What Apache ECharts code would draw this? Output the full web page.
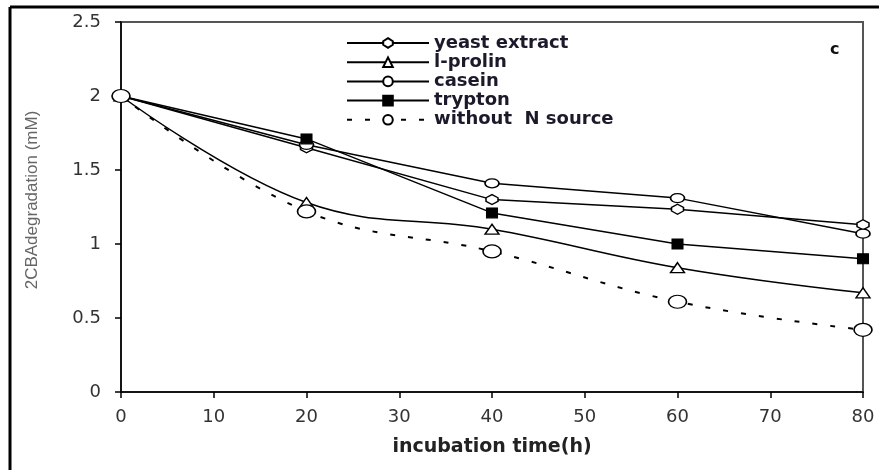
<!DOCTYPE html>
<html>
<head>
<meta charset="utf-8">
<script src="https://cdn.jsdelivr.net/npm/echarts@6/dist/echarts.min.js"></script>
<style>
html,body{margin:0;padding:0;background:#fff;}
#chart{width:879px;height:470px;}
</style>
</head>
<body>
<div id="chart"></div>
<script>
// Data
const hours = [0, 20, 40, 60, 80];
const yeastExtract = [2.0, 1.65, 1.30, 1.235, 1.13];
const lProlin = [2.0, 1.28, 1.10, 0.84, 0.67];
const casein = [2.0, 1.67, 1.41, 1.31, 1.07];
const trypton = [2.0, 1.71, 1.21, 1.0, 0.90];
const withoutN = [2.0, 1.22, 0.95, 0.61, 0.42];
const seriesNames = ['yeast extract', 'l-prolin', 'casein', 'trypton', 'without  N source'];
const xTicks = [0, 10, 20, 30, 40, 50, 60, 70, 80];
const yTicks = [0, 0.5, 1, 1.5, 2, 2.5];

function pairs(ys) { return hours.map((h, i) => [h, ys[i]]); }

const hexPath = 'path://M5,0 L10,3.2 L10,6.8 L5,10 L0,6.8 L0,3.2 Z';
const openStyle = { color: '#fff', borderColor: '#000', borderWidth: 1.4 };
const solidLine = { color: '#000', width: 1.5, type: 'solid' };

const chart = echarts.init(document.getElementById('chart'), null, { renderer: 'canvas' });
chart.setOption({
  animation: false,
  backgroundColor: '#fff',
  graphic: [
    { type: 'line', shape: { x1: 10, y1: 7, x2: 879, y2: 7 }, style: { stroke: '#000', lineWidth: 3 } },
    { type: 'line', shape: { x1: 10, y1: 7, x2: 10, y2: 470 }, style: { stroke: '#000', lineWidth: 3 } },
    { type: 'text', left: 830, top: 42, style: { text: 'c', font: 'bold 16px "DejaVu Sans"', fill: '#111' } }
  ],
  grid: { left: 121, right: 16, top: 22, bottom: 78, show: true, borderColor: '#555', borderWidth: 2, backgroundColor: 'transparent' },
  legend: {
    orient: 'vertical',
    left: 341,
    top: 29,
    itemWidth: 82,
    itemHeight: 12,
    itemGap: 1.2,
    data: seriesNames,
    textStyle: { fontFamily: 'DejaVu Sans', fontSize: 18, fontWeight: 'bold', color: '#1a1a2a', lineHeight: 17 }
  },
  xAxis: {
    type: 'value', min: 0, max: 80, interval: 10,
    name: 'incubation time(h)', nameLocation: 'middle', nameGap: 46,
    nameTextStyle: { fontFamily: 'DejaVu Sans', fontWeight: 'bold', fontSize: 19, color: '#222' },
    axisLine: { show: true, onZero: false, lineStyle: { color: '#000', width: 1.5 } },
    axisTick: { show: true, inside: false, length: 6, lineStyle: { color: '#000', width: 1.5 } },
    axisLabel: { margin: 16, fontFamily: 'DejaVu Sans', fontSize: 18, color: '#333',
      formatter: v => xTicks.indexOf(v) >= 0 ? String(v) : '' },
    splitLine: { show: false }
  },
  yAxis: {
    type: 'value', min: 0, max: 2.5, interval: 0.5,
    name: '2CBAdegradation (mM)', nameLocation: 'middle', nameGap: 80, nameRotate: 90,
    nameTextStyle: { fontFamily: 'Liberation Sans', fontSize: 17, color: '#666', padding: [0, 0, 0, 14] },
    axisLine: { show: true, onZero: false, lineStyle: { color: '#000', width: 1.5 } },
    axisTick: { show: true, inside: false, length: 6, lineStyle: { color: '#000', width: 1.5 } },
    axisLabel: { margin: 20, fontFamily: 'DejaVu Sans', fontSize: 18, color: '#333',
      formatter: v => yTicks.indexOf(v) >= 0 ? String(v) : '' },
    splitLine: { show: false }
  },
  series: [
    { name: seriesNames[0], type: 'line', data: pairs(yeastExtract), symbol: hexPath, symbolSize: [12, 10],
      itemStyle: openStyle, lineStyle: solidLine },
    { name: seriesNames[1], type: 'line', data: pairs(lProlin), smooth: 0.4, symbol: 'triangle', symbolSize: [14, 10],
      itemStyle: openStyle, lineStyle: solidLine },
    { name: seriesNames[2], type: 'line', data: pairs(casein), symbol: 'circle', symbolSize: [14, 9],
      itemStyle: openStyle, lineStyle: solidLine },
    { name: seriesNames[3], type: 'line', data: pairs(trypton), symbol: 'rect', symbolSize: [11, 10],
      itemStyle: { color: '#000', borderColor: '#000', borderWidth: 1 }, lineStyle: solidLine },
    { name: seriesNames[4], type: 'line', data: pairs(withoutN), smooth: 0.4, symbol: 'circle', symbolSize: [18, 13],
      itemStyle: openStyle, lineStyle: { color: '#000', width: 2, type: [5, 13] } }
  ]
});
</script>
</body>
</html>
